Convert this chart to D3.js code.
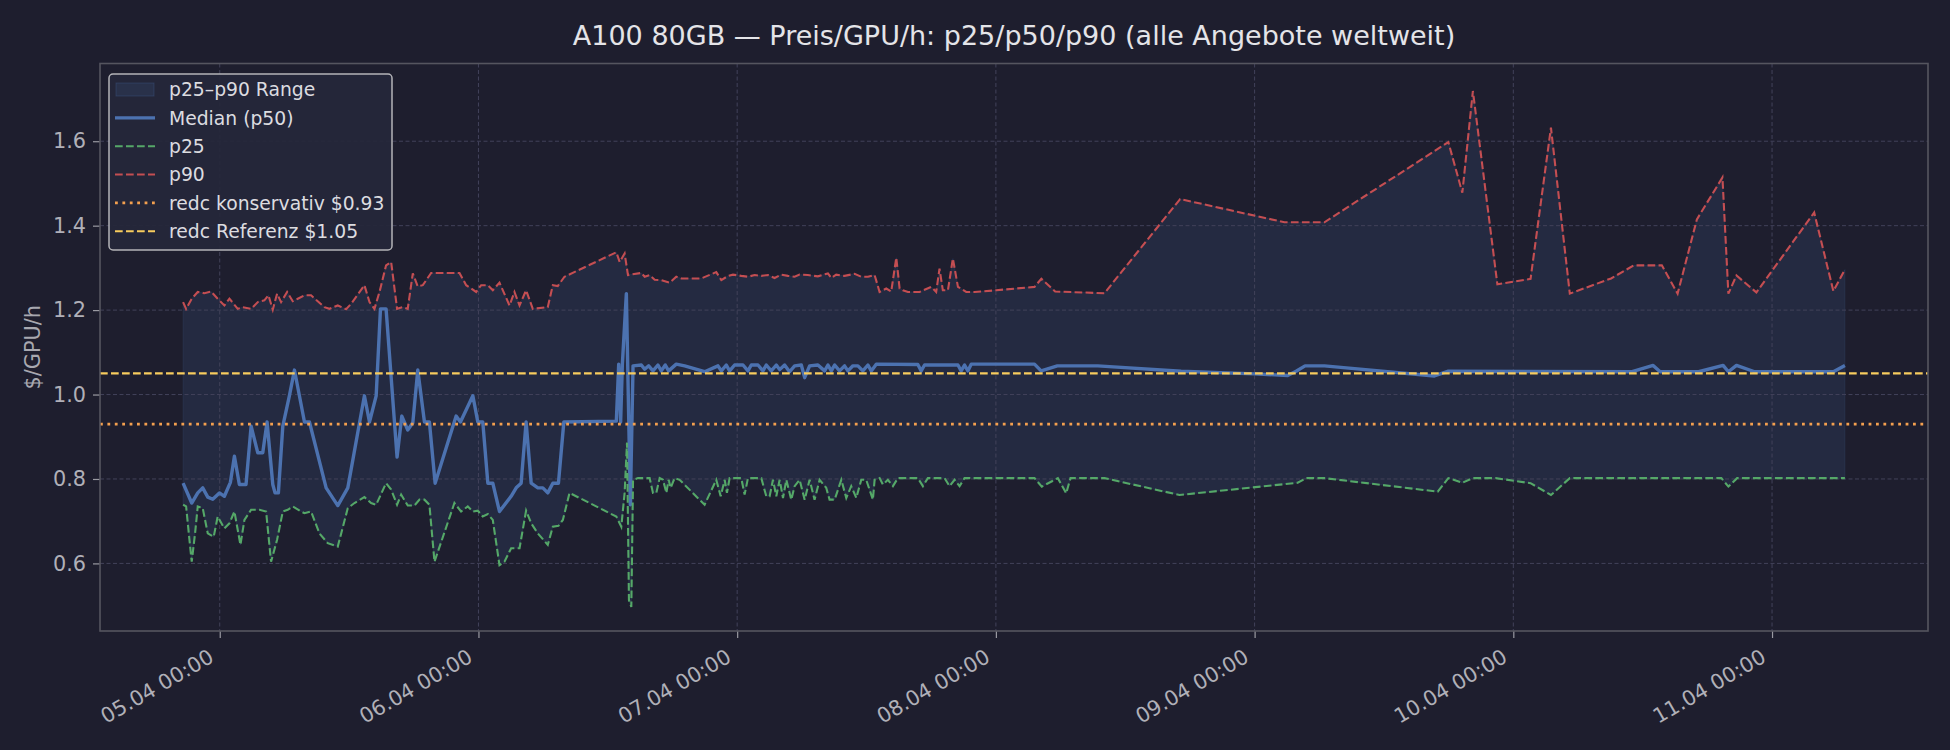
<!DOCTYPE html>
<html>
<head>
<meta charset="utf-8">
<script src="https://cdn.jsdelivr.net/npm/d3@7/dist/d3.min.js"></script>
<style>
  body { margin: 0; background: #1e1e2e; }
  svg { display: block; font-family: "DejaVu Sans", sans-serif; }
</style>
</head>
<body>
<div id="chart"></div>
<script>
// hours since 05.04 00:00
let baseDate = new Date(2025, 3, 5, 0, 0);

let p90Hours = [-3.40, -3.12, -2.60, -2.04, -1.42, -0.80, -0.19, 0.43, 0.90, 1.67, 2.13, 2.91, 3.53, 4.14, 4.52, 4.92, 5.32, 5.69, 6.25, 6.77,
    7.24, 7.86, 8.47, 9.09, 9.71, 10.18, 10.95, 11.72, 12.19, 13.42, 13.89, 14.35, 14.82, 15.43, 15.90, 16.45, 16.98, 17.44, 17.91, 18.37,
    18.84, 19.61, 20.85, 22.24, 22.86, 23.79, 24.25, 24.87, 25.33, 25.95, 26.88, 27.34, 27.81, 28.42, 29.04, 30.43, 30.90, 31.36, 31.98, 36.79,
    37.10, 37.56, 37.87, 39.11, 39.42, 39.88, 40.35, 40.96, 41.74, 42.35, 42.82, 44.67, 46.06, 46.53, 47.15, 47.61, 48.38, 49.00, 49.62, 50.24,
    50.86, 51.47, 52.09, 52.71, 53.33, 53.79, 54.56, 55.49, 56.42, 56.73, 57.19, 57.96, 58.89, 59.51, 60.13, 60.75, 61.21, 61.83, 62.29, 62.76,
    63.07, 63.37, 63.84, 64.92, 66.00, 66.46, 66.77, 67.08, 67.55, 68.01, 68.48, 69.25, 70.02, 72.03, 75.58, 76.22, 77.50, 82.07, 89.09, 98.77,
    102.48, 113.97, 115.27, 116.25, 118.52, 121.60, 123.49, 125.24, 129.07, 131.18, 133.78, 135.24, 137.03, 139.40, 139.95, 140.70, 142.55, 147.91, 149.69, 150.76];
let p90Values = [1.219, 1.203, 1.227, 1.243, 1.240, 1.244, 1.227, 1.211, 1.227, 1.203, 1.207, 1.203, 1.219, 1.223, 1.235, 1.201, 1.239, 1.219, 1.243, 1.221,
    1.227, 1.235, 1.235, 1.221, 1.207, 1.203, 1.211, 1.202, 1.215, 1.259, 1.219, 1.203, 1.243, 1.306, 1.314, 1.203, 1.207, 1.203, 1.287, 1.256,
    1.259, 1.288, 1.288, 1.288, 1.259, 1.243, 1.259, 1.259, 1.247, 1.265, 1.211, 1.243, 1.211, 1.247, 1.203, 1.207, 1.259, 1.257, 1.279, 1.337,
    1.314, 1.334, 1.283, 1.288, 1.279, 1.283, 1.272, 1.271, 1.265, 1.279, 1.275, 1.275, 1.290, 1.271, 1.281, 1.284, 1.281, 1.279, 1.283, 1.281,
    1.283, 1.276, 1.284, 1.281, 1.279, 1.284, 1.283, 1.280, 1.287, 1.276, 1.284, 1.281, 1.286, 1.279, 1.279, 1.283, 1.243, 1.251, 1.244, 1.324,
    1.251, 1.247, 1.243, 1.243, 1.255, 1.243, 1.298, 1.247, 1.247, 1.322, 1.255, 1.243, 1.243, 1.247, 1.255, 1.274, 1.244, 1.240, 1.463, 1.408,
    1.408, 1.598, 1.478, 1.719, 1.261, 1.274, 1.632, 1.239, 1.275, 1.306, 1.306, 1.239, 1.415, 1.514, 1.239, 1.282, 1.242, 1.431, 1.245, 1.296];

let p50Hours = [-3.40, -2.60, -2.04, -1.58, -1.11, -0.65, -0.03, 0.43, 0.99, 1.36, 1.82, 2.44, 2.91, 3.53, 3.99, 4.39, 4.92, 5.13, 5.44, 5.85,
    6.46, 6.93, 7.86, 8.32, 9.87, 10.95, 11.88, 13.42, 13.89, 14.51, 14.91, 15.43, 16.45, 16.89, 17.44, 17.91, 18.37, 18.99, 19.45, 19.98,
    21.93, 22.33, 23.48, 23.94, 24.40, 24.87, 25.33, 25.95, 27.03, 27.50, 27.96, 28.42, 28.89, 29.51, 29.97, 30.43, 30.90, 31.42, 31.92, 36.79,
    37.01, 37.19, 37.35, 37.72, 38.09, 38.34, 39.11, 39.42, 39.79, 40.19, 40.65, 40.96, 41.33, 41.64, 42.35, 43.13, 44.98, 46.22, 46.53, 46.99,
    47.30, 47.76, 48.54, 49.00, 49.31, 49.93, 50.39, 50.70, 51.16, 51.63, 51.94, 52.40, 52.86, 53.33, 53.95, 54.26, 54.72, 55.49, 56.11, 56.42,
    56.73, 57.04, 57.50, 57.96, 58.27, 58.74, 59.20, 59.66, 60.13, 60.44, 60.90, 64.76, 65.07, 65.38, 68.48, 68.78, 69.09, 69.40, 69.71, 75.58,
    76.20, 77.70, 81.45, 89.18, 95.98, 99.07, 99.85, 100.68, 102.48, 112.68, 113.91, 131.02, 132.97, 133.62, 137.19, 139.46, 139.95, 140.70, 142.39, 149.69,
    150.76];
let p50Values = [0.790, 0.743, 0.767, 0.779, 0.757, 0.752, 0.767, 0.759, 0.792, 0.854, 0.787, 0.787, 0.925, 0.862, 0.862, 0.935, 0.787, 0.767, 0.767, 0.925,
    0.997, 1.058, 0.935, 0.935, 0.779, 0.737, 0.779, 0.997, 0.935, 0.997, 1.203, 1.203, 0.852, 0.949, 0.916, 0.933, 1.058, 0.935, 0.935, 0.790,
    0.949, 0.935, 0.997, 0.935, 0.935, 0.790, 0.790, 0.723, 0.759, 0.779, 0.790, 0.935, 0.790, 0.779, 0.779, 0.767, 0.790, 0.790, 0.935, 0.937,
    1.072, 0.935, 1.072, 1.239, 0.739, 1.068, 1.070, 1.060, 1.068, 1.056, 1.070, 1.056, 1.070, 1.056, 1.072, 1.068, 1.054, 1.068, 1.056, 1.070,
    1.056, 1.070, 1.070, 1.056, 1.070, 1.070, 1.056, 1.070, 1.056, 1.070, 1.059, 1.070, 1.054, 1.068, 1.070, 1.040, 1.068, 1.070, 1.056, 1.070,
    1.056, 1.070, 1.056, 1.068, 1.056, 1.068, 1.068, 1.056, 1.070, 1.056, 1.072, 1.071, 1.056, 1.070, 1.070, 1.056, 1.070, 1.056, 1.072, 1.072,
    1.056, 1.068, 1.068, 1.055, 1.049, 1.045, 1.055, 1.068, 1.068, 1.044, 1.055, 1.054, 1.069, 1.054, 1.054, 1.069, 1.054, 1.069, 1.054, 1.054,
    1.069];

let p25Hours = [-3.40, -3.12, -2.81, -2.60, -2.29, -2.04, -1.58, -1.11, -0.56, -0.19, 0.43, 0.90, 1.36, 1.92, 2.29, 2.91, 3.68, 4.30, 4.76, 5.32,
    5.85, 6.31, 6.77, 7.55, 7.86, 8.47, 9.25, 10.02, 10.95, 11.88, 12.50, 13.42, 14.04, 14.51, 15.43, 15.90, 16.45, 16.83, 17.44, 18.06,
    18.53, 18.99, 19.45, 19.92, 21.77, 22.39, 23.01, 23.48, 23.94, 24.40, 24.87, 25.33, 25.95, 26.41, 27.03, 27.81, 28.42, 28.89, 29.51, 30.43,
    30.90, 31.42, 31.83, 32.45, 36.79, 37.25, 37.56, 37.78, 37.96, 38.18, 38.34, 38.80, 39.88, 40.19, 40.50, 40.81, 41.12, 41.43, 41.64, 41.83,
    42.20, 42.66, 44.98, 46.06, 46.47, 46.84, 47.05, 47.30, 48.38, 48.69, 49.00, 50.24, 50.70, 51.01, 51.32, 51.63, 51.94, 52.25, 52.56, 53.02,
    53.33, 53.79, 54.26, 54.72, 55.18, 55.65, 56.26, 56.57, 57.04, 57.66, 58.12, 58.58, 59.05, 59.51, 59.97, 60.59, 60.75, 61.21, 61.52, 61.98,
    62.45, 62.91, 64.76, 65.23, 65.69, 67.24, 67.70, 68.17, 68.63, 69.09, 75.58, 76.26, 77.75, 78.52, 78.92, 82.07, 89.03, 100.00, 100.78, 102.48,
    112.99, 113.97, 115.27, 116.25, 118.36, 121.60, 123.49, 125.24, 139.30, 139.95, 140.76, 150.76];
let p25Values = [0.739, 0.735, 0.656, 0.604, 0.671, 0.735, 0.731, 0.671, 0.663, 0.711, 0.683, 0.695, 0.723, 0.644, 0.703, 0.727, 0.727, 0.723, 0.604, 0.656,
    0.723, 0.727, 0.735, 0.723, 0.719, 0.723, 0.671, 0.648, 0.640, 0.731, 0.743, 0.757, 0.743, 0.739, 0.790, 0.775, 0.739, 0.763, 0.737, 0.737,
    0.751, 0.751, 0.739, 0.604, 0.743, 0.723, 0.735, 0.723, 0.725, 0.711, 0.717, 0.703, 0.596, 0.604, 0.636, 0.636, 0.725, 0.695, 0.671, 0.644,
    0.687, 0.689, 0.703, 0.767, 0.711, 0.687, 0.767, 0.886, 0.513, 0.497, 0.798, 0.802, 0.802, 0.767, 0.767, 0.802, 0.798, 0.767, 0.798, 0.779,
    0.802, 0.798, 0.739, 0.798, 0.759, 0.798, 0.767, 0.802, 0.802, 0.763, 0.802, 0.802, 0.759, 0.759, 0.798, 0.759, 0.798, 0.755, 0.798, 0.751,
    0.783, 0.798, 0.751, 0.798, 0.751, 0.798, 0.779, 0.751, 0.751, 0.798, 0.755, 0.783, 0.755, 0.798, 0.798, 0.751, 0.798, 0.802, 0.787, 0.798,
    0.783, 0.802, 0.802, 0.783, 0.802, 0.802, 0.783, 0.798, 0.783, 0.802, 0.802, 0.782, 0.802, 0.766, 0.802, 0.802, 0.762, 0.791, 0.802, 0.802,
    0.770, 0.802, 0.791, 0.802, 0.802, 0.790, 0.762, 0.802, 0.802, 0.782, 0.802, 0.802];

let refValues = [0.93, 1.05];
let refColors = ["#f4a04f", "#f7cc5e"];
let yTicks = [0.6, 0.8, 1.0, 1.2, 1.4, 1.6];

let svgWidth = 1950;
let svgHeight = 750;
let margin = {top: 63.5, right: 22, bottom: 119, left: 100};
let chartWidth = svgWidth - margin.left - margin.right;
let chartHeight = svgHeight - margin.top - margin.bottom;

function toDate(h) {
    return new Date(baseDate.getTime() + h * 3600 * 1000);
}
function toPoints(hours, values) {
    return hours.map((h, i) => ({t: toDate(h), v: values[i]}));
}

let p90 = toPoints(p90Hours, p90Values);
let p50 = toPoints(p50Hours, p50Values);
let p25 = toPoints(p25Hours, p25Values);

// matplotlib style 5% margins
let allH = p90Hours.concat(p25Hours);
let hMin = d3.min(allH), hMax = d3.max(allH);
let hPad = (hMax - hMin) * 0.05;
let allV = p90Values.concat(p25Values, p50Values);
let vMin = d3.min(allV), vMax = d3.max(allV);
let vPad = (vMax - vMin) * 0.05;

let svg = d3.select("#chart")
    .append("svg")
    .attr("width", svgWidth)
    .attr("height", svgHeight);

svg.append("rect")
    .attr("width", svgWidth)
    .attr("height", svgHeight)
    .attr("fill", "#1e1e2e");

let chartGroup = svg.append("g")
    .attr("transform", `translate(${margin.left}, ${margin.top})`);

let x = d3.scaleTime()
    .domain([toDate(hMin - hPad), toDate(hMax + hPad)])
    .range([0, chartWidth]);
let y = d3.scaleLinear()
    .domain([vMin - vPad + 0.004, vMax + vPad + 0.004])
    .range([chartHeight, 0]);

let xTicks = x.ticks(d3.timeDay.every(1));

// p25-p90 band
let bandLine = d3.line().x(d => x(d.t)).y(d => y(d.v));
let bandPts = p90.concat(p25.slice().reverse());
chartGroup.append("path")
    .attr("d", bandLine(bandPts) + "Z")
    .attr("fill", "#4c72b0")
    .attr("fill-opacity", 0.15)
    .attr("stroke", "#4c72b0")
    .attr("stroke-opacity", 0.15)
    .attr("stroke-width", 1);

// grid
chartGroup.append("g")
    .selectAll("line")
    .data(yTicks)
    .enter()
    .append("line")
    .attr("x1", 0)
    .attr("x2", chartWidth)
    .attr("y1", d => y(d))
    .attr("y2", d => y(d))
    .attr("stroke", "#42425a")
    .attr("stroke-width", 1)
    .attr("stroke-dasharray", "4,2.5");
chartGroup.append("g")
    .selectAll("line")
    .data(xTicks)
    .enter()
    .append("line")
    .attr("x1", d => x(d))
    .attr("x2", d => x(d))
    .attr("y1", 0)
    .attr("y2", chartHeight)
    .attr("stroke", "#42425a")
    .attr("stroke-width", 1)
    .attr("stroke-dasharray", "4,2.5");

let line = d3.line().x(d => x(d.t)).y(d => y(d.v));

chartGroup.append("path")
    .datum(p50)
    .attr("d", line)
    .attr("fill", "none")
    .attr("stroke", "#4c72b0")
    .attr("stroke-width", 3.4)
    .attr("stroke-linejoin", "round");

chartGroup.append("path")
    .datum(p25)
    .attr("d", line)
    .attr("fill", "none")
    .attr("stroke", "#55a868")
    .attr("stroke-width", 2.1)
    .attr("stroke-dasharray", "7.7,3.3");

chartGroup.append("path")
    .datum(p90)
    .attr("d", line)
    .attr("fill", "none")
    .attr("stroke", "#c44e52")
    .attr("stroke-width", 2.1)
    .attr("stroke-dasharray", "7.7,3.3");

// reference lines
chartGroup.append("line")
    .attr("x1", 0).attr("x2", chartWidth)
    .attr("y1", y(refValues[0])).attr("y2", y(refValues[0]))
    .attr("stroke", refColors[0])
    .attr("stroke-width", 2.8)
    .attr("stroke-dasharray", "2.8,4.6");
chartGroup.append("line")
    .attr("x1", 0).attr("x2", chartWidth)
    .attr("y1", y(refValues[1])).attr("y2", y(refValues[1]))
    .attr("stroke", refColors[1])
    .attr("stroke-width", 2.2)
    .attr("stroke-dasharray", "7.7,3.3");

// axes
let bottomAxis = d3.axisBottom(x)
    .tickValues(xTicks)
    .tickFormat(d3.timeFormat("%d.%m %H:%M"))
    .tickSize(7)
    .tickSizeOuter(0);
let leftAxis = d3.axisLeft(y)
    .tickValues(yTicks)
    .tickFormat(d3.format(".1f"))
    .tickSize(7)
    .tickSizeOuter(0)
    .tickPadding(7);

let xAxis = chartGroup.append("g")
    .attr("transform", `translate(0, ${chartHeight})`)
    .call(bottomAxis);
xAxis.select(".domain").remove();
xAxis.selectAll("line").attr("stroke", "#9a9aa2").attr("stroke-width", 1.2);
xAxis.selectAll("text")
    .attr("y", 0)
    .attr("x", 0)
    .attr("dy", null)
    .attr("text-anchor", "end")
    .attr("transform", "translate(-5, 30) rotate(-30)")
    .attr("fill", "#b0b0b8")
    .style("font-size", "20.8px")
    .style("font-family", "DejaVu Sans");

let yAxis = chartGroup.append("g")
    .call(leftAxis);
yAxis.select(".domain").remove();
yAxis.selectAll("line").attr("stroke", "#9a9aa2").attr("stroke-width", 1.2);
yAxis.selectAll("text")
    .attr("fill", "#b0b0b8")
    .style("font-size", "20.8px")
    .style("font-family", "DejaVu Sans");

// frame
chartGroup.append("rect")
    .attr("width", chartWidth)
    .attr("height", chartHeight)
    .attr("fill", "none")
    .attr("stroke", "#55555f")
    .attr("stroke-width", 1.6);

// labels
svg.append("text")
    .attr("x", margin.left + chartWidth / 2)
    .attr("y", 45)
    .attr("text-anchor", "middle")
    .attr("fill", "#e4e4e8")
    .style("font-size", "27px")
    .text("A100 80GB — Preis/GPU/h: p25/p50/p90 (alle Angebote weltweit)");

svg.append("text")
    .attr("transform", `translate(40, ${margin.top + chartHeight / 2}) rotate(-90)`)
    .attr("text-anchor", "middle")
    .attr("fill", "#a8a8b0")
    .style("font-size", "20.8px")
    .text("$/GPU/h");

// legend
let legendItems = [
    {label: "p25–p90 Range", kind: "patch"},
    {label: "Median (p50)", kind: "line", color: "#4c72b0", width: 3.4, dash: null},
    {label: "p25", kind: "line", color: "#55a868", width: 2.1, dash: "7.7,3.3"},
    {label: "p90", kind: "line", color: "#c44e52", width: 2.1, dash: "7.7,3.3"},
    {label: "redc konservativ $0.93", kind: "line", color: refColors[0], width: 2.8, dash: "2.8,4.6"},
    {label: "redc Referenz $1.05", kind: "line", color: refColors[1], width: 2.2, dash: "7.7,3.3"}
];

let legend = svg.append("g").attr("transform", "translate(109, 74)");
legend.append("rect")
    .attr("width", 283)
    .attr("height", 176)
    .attr("rx", 4)
    .attr("fill", "#25273a")
    .attr("fill-opacity", 0.95)
    .attr("stroke", "#b4b4b8")
    .attr("stroke-width", 1.5);

let rows = legend.selectAll("g.row")
    .data(legendItems)
    .enter()
    .append("g")
    .attr("class", "row")
    .attr("transform", (d, i) => `translate(0, ${15.5 + i * 28.35})`);

rows.filter(d => d.kind === "patch")
    .append("rect")
    .attr("x", 7).attr("y", -6.5)
    .attr("width", 38).attr("height", 13)
    .attr("fill", "#4c72b0").attr("fill-opacity", 0.15)
    .attr("stroke", "#4c72b0").attr("stroke-opacity", 0.25);

rows.filter(d => d.kind === "line")
    .append("line")
    .attr("x1", 6).attr("x2", 46)
    .attr("y1", 0).attr("y2", 0)
    .attr("stroke", d => d.color)
    .attr("stroke-width", d => d.width)
    .attr("stroke-dasharray", d => d.dash);

rows.append("text")
    .attr("x", 60)
    .attr("y", 0)
    .attr("dy", "0.36em")
    .attr("fill", "#dcdce0")
    .style("font-size", "18.75px")
    .text(d => d.label);
</script>
</body>
</html>
